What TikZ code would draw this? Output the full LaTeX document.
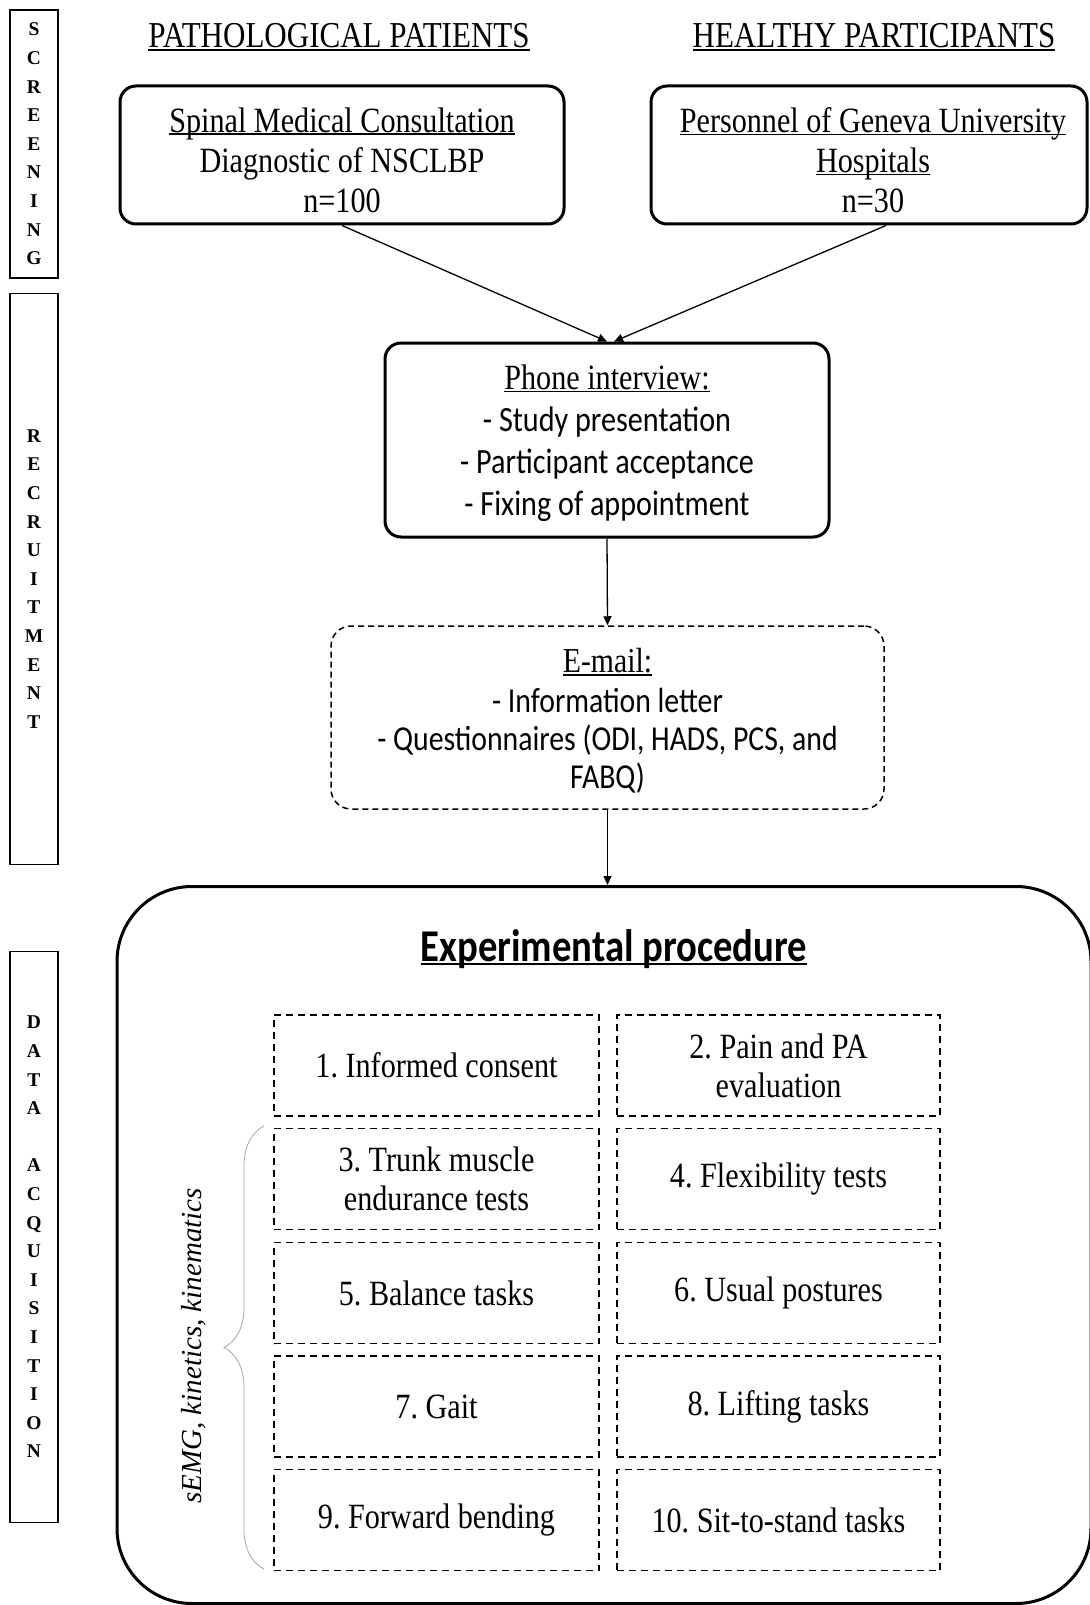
\documentclass[tikz,border=0pt]{standalone}
\usepackage{fontspec}
\usetikzlibrary{arrows.meta,decorations.pathreplacing}
\setmainfont{Liberation Serif}[FakeStretch=0.85]
\newfontfamily\bodysans{Carlito}[FakeStretch=0.85]
\newfontfamily\sideserif{Liberation Serif}
\newfontfamily\labit{Liberation Serif Italic}
\newcommand\myul[1]{\setbox0\hbox{#1}\rlap{\rule[-0.085em]{\wd0}{0.05em}}\box0}
\frenchspacing
\tikzset{
  sidebox/.style={draw, line width=1.2pt, minimum width=48pt, inner sep=0pt,
    font=\sideserif\bfseries\fontsize{19.5}{28.6}\selectfont, align=center},
  solidbox/.style={draw, line width=3pt, rounded corners=16pt, inner sep=0pt,
    align=center, font=\fontsize{35}{40}\selectfont},
  dashbox/.style={draw, line width=1.5pt, dash pattern=on 6pt off 4pt, rounded corners=20pt,
    inner sep=0pt, align=center},
  cell/.style={draw, line width=1.7pt, dash pattern=on 7pt off 5pt, minimum height=101pt,
    inner sep=0pt, align=center, font=\fontsize{35.5}{39}\selectfont},
  lcell/.style={cell, minimum width=325pt},
  rcell/.style={cell, minimum width=323pt},
  header/.style={font=\fontsize{36.5}{40}\selectfont},
  arr/.style={line width=1.3pt, -{Triangle[length=9pt,width=8pt]}},
}
\begin{document}
\begin{tikzpicture}[x=1pt,y=-1pt]
\useasboundingbox (0,0) rectangle (1089,1605);
% side phase boxes
\node[sidebox, minimum height=268pt] (scr) at (34,144) {S\\C\\R\\E\\E\\N\\I\\N\\G};
\node[sidebox, minimum height=571pt] (rec) at (34,579) {R\\E\\C\\R\\U\\I\\T\\M\\E\\N\\T};
\node[sidebox, minimum height=571pt] (dat) at (34,1237) {D\\A\\T\\A\\\\A\\C\\Q\\U\\I\\S\\I\\T\\I\\O\\N};
% headers
\node[header] (hpat) at (339,37) {\myul{PATHOLOGICAL PATIENTS}};
\node[header] (hhea) at (874,37) {\myul{HEALTHY PARTICIPANTS}};
% screening boxes
\node[solidbox, minimum width=444pt, minimum height=138pt] (pat) at (342,155) {};
\node (pattxt) at (342,160) [align=center, font=\fontsize{35.5}{40}\selectfont]
  {\myul{Spinal Medical Consultation}\\Diagnostic of NSCLBP\\n=100};
\node[solidbox, minimum width=436pt, minimum height=138pt] (hea) at (869,155) {};
\node (heatxt) at (873,160) [align=center, font=\fontsize{35.5}{40}\selectfont]
  {\myul{Personnel of Geneva University}\\\myul{Hospitals}\\n=30};
% phone interview
\node[solidbox, minimum width=444pt, minimum height=194pt] (pho) at (607,440) {};
\node (photxt) at (607,443) [align=center, font=\bodysans\fontsize{35.5}{42}\selectfont]
  {{\rmfamily\myul{Phone interview:}}\\- Study presentation\\- Participant acceptance\\- Fixing of appointment};
% e-mail
\node[dashbox, minimum width=553pt, minimum height=183pt] (ema) at (607.5,717.5) {};
\node (ematxt) at (607.5,721) [align=center, font=\bodysans\fontsize{35}{38}\selectfont]
  {{\rmfamily\myul{E-mail:}}\\[2pt]- Information letter\\- Questionnaires (ODI, HADS, PCS, and\\FABQ)};
% experimental procedure frame
\node[draw, line width=3pt, rounded corners=75pt, minimum width=974pt, minimum height=717pt, inner sep=0pt]
  (exp) at (604,1245) {};
\node (exptitle) at (614,949) [font=\bodysans\bfseries\fontsize{45.5}{50}\selectfont] {\myul{Experimental procedure}};
% grid cells
\node[lcell] (c1) at (436.5,1065.5) {1. Informed consent};
\node[rcell] (c2) at (778.5,1065.5) {2. Pain and PA\\evaluation};
\node[lcell] (c3) at (436.5,1179) {3. Trunk muscle\\endurance tests};
\node[rcell] (c4) at (778.5,1179) {4. Flexibility tests};
\node[lcell] (c5) at (436.5,1293) {5. Balance tasks};
\node[rcell] (c6) at (778.5,1293) {6. Usual postures};
\node[lcell] (c7) at (436.5,1406.5) {7. Gait};
\node[rcell] (c8) at (778.5,1406.5) {8. Lifting tasks};
\node[lcell] (c9) at (436.5,1520) {9. Forward bending};
\node[rcell] (c10) at (778.5,1520) {10. Sit-to-stand tasks};
% brace and label
\coordinate (btop) at (264,1126);
\coordinate (bbot) at (264,1569);
\draw[gray!70, line width=0.8pt, decorate, decoration={brace, amplitude=40pt}] (bbot) -- (btop);
\node[rotate=90, font=\labit\fontsize{29}{32}\selectfont] (lab) at (194,1346) {sEMG, kinetics, kinematics};
% connectors
\draw[arr] (pat.south) -- (pho.north);
\draw[arr] ([xshift=17pt]hea.south) -- ([xshift=7pt]pho.north);
\draw[arr] (pho.south) -- (ema.north);
\draw[arr] (ema.south) -- (ema.south |- exp.north);
\end{tikzpicture}
\end{document}
